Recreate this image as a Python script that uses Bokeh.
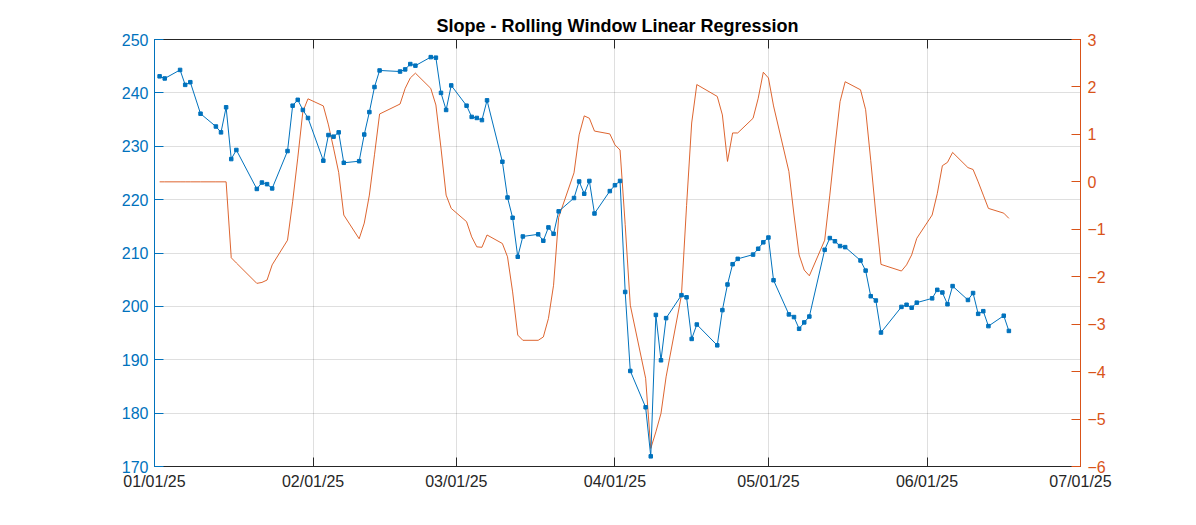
import pandas as pd
from datetime import datetime
from bokeh.plotting import figure
from bokeh.models import Range1d, LinearAxis, DatetimeAxis, FixedTicker, DatetimeTickFormatter, ColumnDataSource
from bokeh.embed import file_html
from bokeh.resources import INLINE

# ---------------- data ----------------
dates = [
    "2025-01-02", "2025-01-03", "2025-01-06", "2025-01-07", "2025-01-08", "2025-01-10", "2025-01-13",
    "2025-01-14", "2025-01-15", "2025-01-16", "2025-01-17", "2025-01-21", "2025-01-22", "2025-01-23",
    "2025-01-24", "2025-01-27", "2025-01-28", "2025-01-29", "2025-01-30", "2025-01-31",
    "2025-02-03", "2025-02-04", "2025-02-05", "2025-02-06", "2025-02-07", "2025-02-10", "2025-02-11",
    "2025-02-12", "2025-02-13", "2025-02-14", "2025-02-18", "2025-02-19", "2025-02-20", "2025-02-21",
    "2025-02-24", "2025-02-25", "2025-02-26", "2025-02-27", "2025-02-28",
    "2025-03-03", "2025-03-04", "2025-03-05", "2025-03-06", "2025-03-07", "2025-03-10", "2025-03-11",
    "2025-03-12", "2025-03-13", "2025-03-14", "2025-03-17", "2025-03-18", "2025-03-19", "2025-03-20",
    "2025-03-21", "2025-03-24", "2025-03-25", "2025-03-26", "2025-03-27", "2025-03-28", "2025-03-31",
    "2025-04-01", "2025-04-02", "2025-04-03", "2025-04-04", "2025-04-07", "2025-04-08", "2025-04-09",
    "2025-04-10", "2025-04-11", "2025-04-14", "2025-04-15", "2025-04-16", "2025-04-17", "2025-04-21",
    "2025-04-22", "2025-04-23", "2025-04-24", "2025-04-25", "2025-04-28", "2025-04-29", "2025-04-30",
    "2025-05-01", "2025-05-02", "2025-05-05", "2025-05-06", "2025-05-07", "2025-05-08", "2025-05-09",
    "2025-05-12", "2025-05-13", "2025-05-14", "2025-05-15", "2025-05-16", "2025-05-19", "2025-05-20",
    "2025-05-21", "2025-05-22", "2025-05-23", "2025-05-27", "2025-05-28", "2025-05-29", "2025-05-30",
    "2025-06-02", "2025-06-03", "2025-06-04", "2025-06-05", "2025-06-06", "2025-06-09", "2025-06-10",
    "2025-06-11", "2025-06-12", "2025-06-13", "2025-06-16", "2025-06-17",
]

price = [
    243.1, 242.7, 244.3, 241.5, 242.0, 236.1, 233.7, 232.6, 237.3, 227.6, 229.3, 222.0, 223.2, 222.9,
    222.1, 229.1, 237.6, 238.7, 236.8, 235.3,
    227.3, 232.1, 231.8, 232.6, 226.9, 227.2, 232.2, 236.4, 241.1, 244.2, 244.0, 244.4, 245.4, 245.1,
    246.7, 246.6, 240.0, 236.8, 241.4,
    237.6, 235.5, 235.3, 234.9, 238.6, 227.1, 220.4, 216.6, 209.3, 213.1, 213.5, 212.3, 214.8, 213.6,
    217.8, 220.3, 223.4, 221.1, 223.5, 217.4, 221.6,
    222.7, 223.5, 202.7, 187.9, 181.1, 171.9, 198.4, 189.9, 197.8, 202.1, 201.7, 193.9, 196.6, 192.7,
    199.3, 204.1, 207.9, 208.9, 209.7, 210.8, 212.0,
    212.9, 204.9, 198.5, 198.0, 195.8, 197.0, 198.1, 210.6, 212.8, 212.2, 211.3, 211.1, 208.6, 206.7,
    201.9, 201.1, 195.1, 199.9, 200.3, 199.75, 200.7,
    201.5, 203.1, 202.6, 200.4, 203.8, 201.2, 202.5, 198.6, 199.1, 196.3, 198.25, 195.4,
]

slope = [
    0.0, 0.0, 0.0, 0.0, 0.0, 0.0, 0.0, 0.0, 0.0, -1.6, -1.71, -2.14, -2.12, -2.07,
    -1.75, -1.23, -0.42, 0.5, 1.48, 1.75,
    1.6, 1.2, 0.71, 0.2, -0.70, -1.2, -0.87, -0.28, 0.57, 1.43, 1.64, 1.97, 2.19, 2.29,
    1.97, 1.62, 0.71, -0.28, -0.56,
    -0.84, -1.16, -1.37, -1.38, -1.12, -1.30, -1.58, -2.32, -3.23, -3.34, -3.34, -3.27, -2.88, -2.18,
    -0.75, 0.19, 0.99, 1.39, 1.34, 1.07, 1.01,
    0.78, 0.67, -0.9, -2.6, -4.14, -5.62, -5.27, -4.88, -4.11, -2.39, -0.5, 1.24, 2.05, 1.80,
    1.41, 0.43, 1.03, 1.03, 1.34, 1.76, 2.31,
    2.19, 1.6, 0.22, -0.70, -1.54, -1.86, -1.98, -1.23, -0.28, 0.74, 1.69, 2.11, 1.94, 1.52,
    0.45, -0.68, -1.74, -1.88, -1.75, -1.54, -1.19,
    -0.70, -0.25, 0.34, 0.41, 0.62, 0.30, 0.26, 0.0, -0.28, -0.56, -0.66, -0.77,
]

month_ticks = ["2025-01-01", "2025-02-01", "2025-03-01", "2025-04-01", "2025-05-01", "2025-06-01", "2025-07-01"]

title_text = "Slope - Rolling Window Linear Regression"
price_ticks = [170, 180, 190, 200, 210, 220, 230, 240, 250]
slope_ticks = [-6, -5, -4, -3, -2, -1, 0, 1, 2, 3]

# ---------------- styling ----------------
BLUE = "#0072BD"
ORANGE = "#D95319"
DARK = "#262626"
FONT = "Liberation Sans"
TICK_SIZE = "16px"

src = ColumnDataSource(dict(x=pd.to_datetime(dates), price=price, slope=slope))
tick_ms = [pd.Timestamp(d).value // 10**6 for d in month_ticks]

p = figure(
    frame_width=926, frame_height=427,
    x_axis_type="datetime",
    x_range=Range1d(datetime(2025, 1, 1), datetime(2025, 7, 1)),
    y_range=Range1d(170, 250),
    output_backend="svg", toolbar_location=None,
    min_border_left=154, min_border_right=100, min_border_top=39, min_border_bottom=36,
    background_fill_color="white", border_fill_color="white",
)
p.outline_line_color = None

p.title.text = title_text
p.title.align = "center"
p.title.text_font = FONT
p.title.text_font_size = "18px"
p.title.text_font_style = "bold"
p.title.text_color = "#000000"
p.title.standoff = 8

p.extra_y_ranges = {"slope": Range1d(-6, 3)}

fmt = DatetimeTickFormatter(
    milliseconds="%m/%d/%y", seconds="%m/%d/%y", minsec="%m/%d/%y", minutes="%m/%d/%y",
    hourmin="%m/%d/%y", hours="%m/%d/%y", days="%m/%d/%y", months="%m/%d/%y", years="%m/%d/%y",
)

# bottom axis
xa = p.xaxis[0]
xa.ticker = FixedTicker(ticks=tick_ms)
xa.formatter = fmt
xa.axis_line_color = DARK
xa.major_tick_line_color = DARK
xa.major_tick_in = 9
xa.major_tick_out = 0
xa.minor_tick_line_color = None
xa.major_label_text_color = DARK
xa.major_label_text_font = FONT
xa.major_label_text_font_size = TICK_SIZE
xa.major_label_standoff = 6

# top axis (box edge with inward ticks, no labels)
top = DatetimeAxis(ticker=FixedTicker(ticks=tick_ms), formatter=fmt)
top.axis_line_color = DARK
top.major_tick_line_color = DARK
top.major_tick_in = 9
top.major_tick_out = 0
top.minor_tick_line_color = None
top.major_label_text_color = None
top.major_label_text_font_size = "1px"
top.major_label_standoff = 0
p.add_layout(top, "above")

# left axis
ya = p.yaxis[0]
ya.ticker = FixedTicker(ticks=price_ticks)
ya.axis_line_color = BLUE
ya.major_tick_line_color = BLUE
ya.major_tick_in = 9
ya.major_tick_out = 0
ya.minor_tick_line_color = None
ya.major_label_text_color = BLUE
ya.major_label_text_font = FONT
ya.major_label_text_font_size = TICK_SIZE
ya.major_label_standoff = 6

# right axis
ra = LinearAxis(y_range_name="slope", ticker=FixedTicker(ticks=slope_ticks))
ra.axis_line_color = ORANGE
ra.major_tick_line_color = ORANGE
ra.major_tick_in = 9
ra.major_tick_out = 0
ra.minor_tick_line_color = None
ra.major_label_text_color = ORANGE
ra.major_label_text_font = FONT
ra.major_label_text_font_size = TICK_SIZE
ra.major_label_standoff = 7
p.add_layout(ra, "right")

# grids
p.xgrid.grid_line_color = DARK
p.xgrid.grid_line_alpha = 0.15
p.ygrid.grid_line_color = DARK
p.ygrid.grid_line_alpha = 0.15

# series
p.line("x", "slope", source=src, y_range_name="slope", line_color=ORANGE, line_width=0.9)
p.line("x", "price", source=src, line_color=BLUE, line_width=1)
p.scatter("x", "price", source=src, marker="square", size=3.5, fill_color=BLUE, line_color=BLUE)

open("out.html", "w").write(file_html(p, INLINE))
